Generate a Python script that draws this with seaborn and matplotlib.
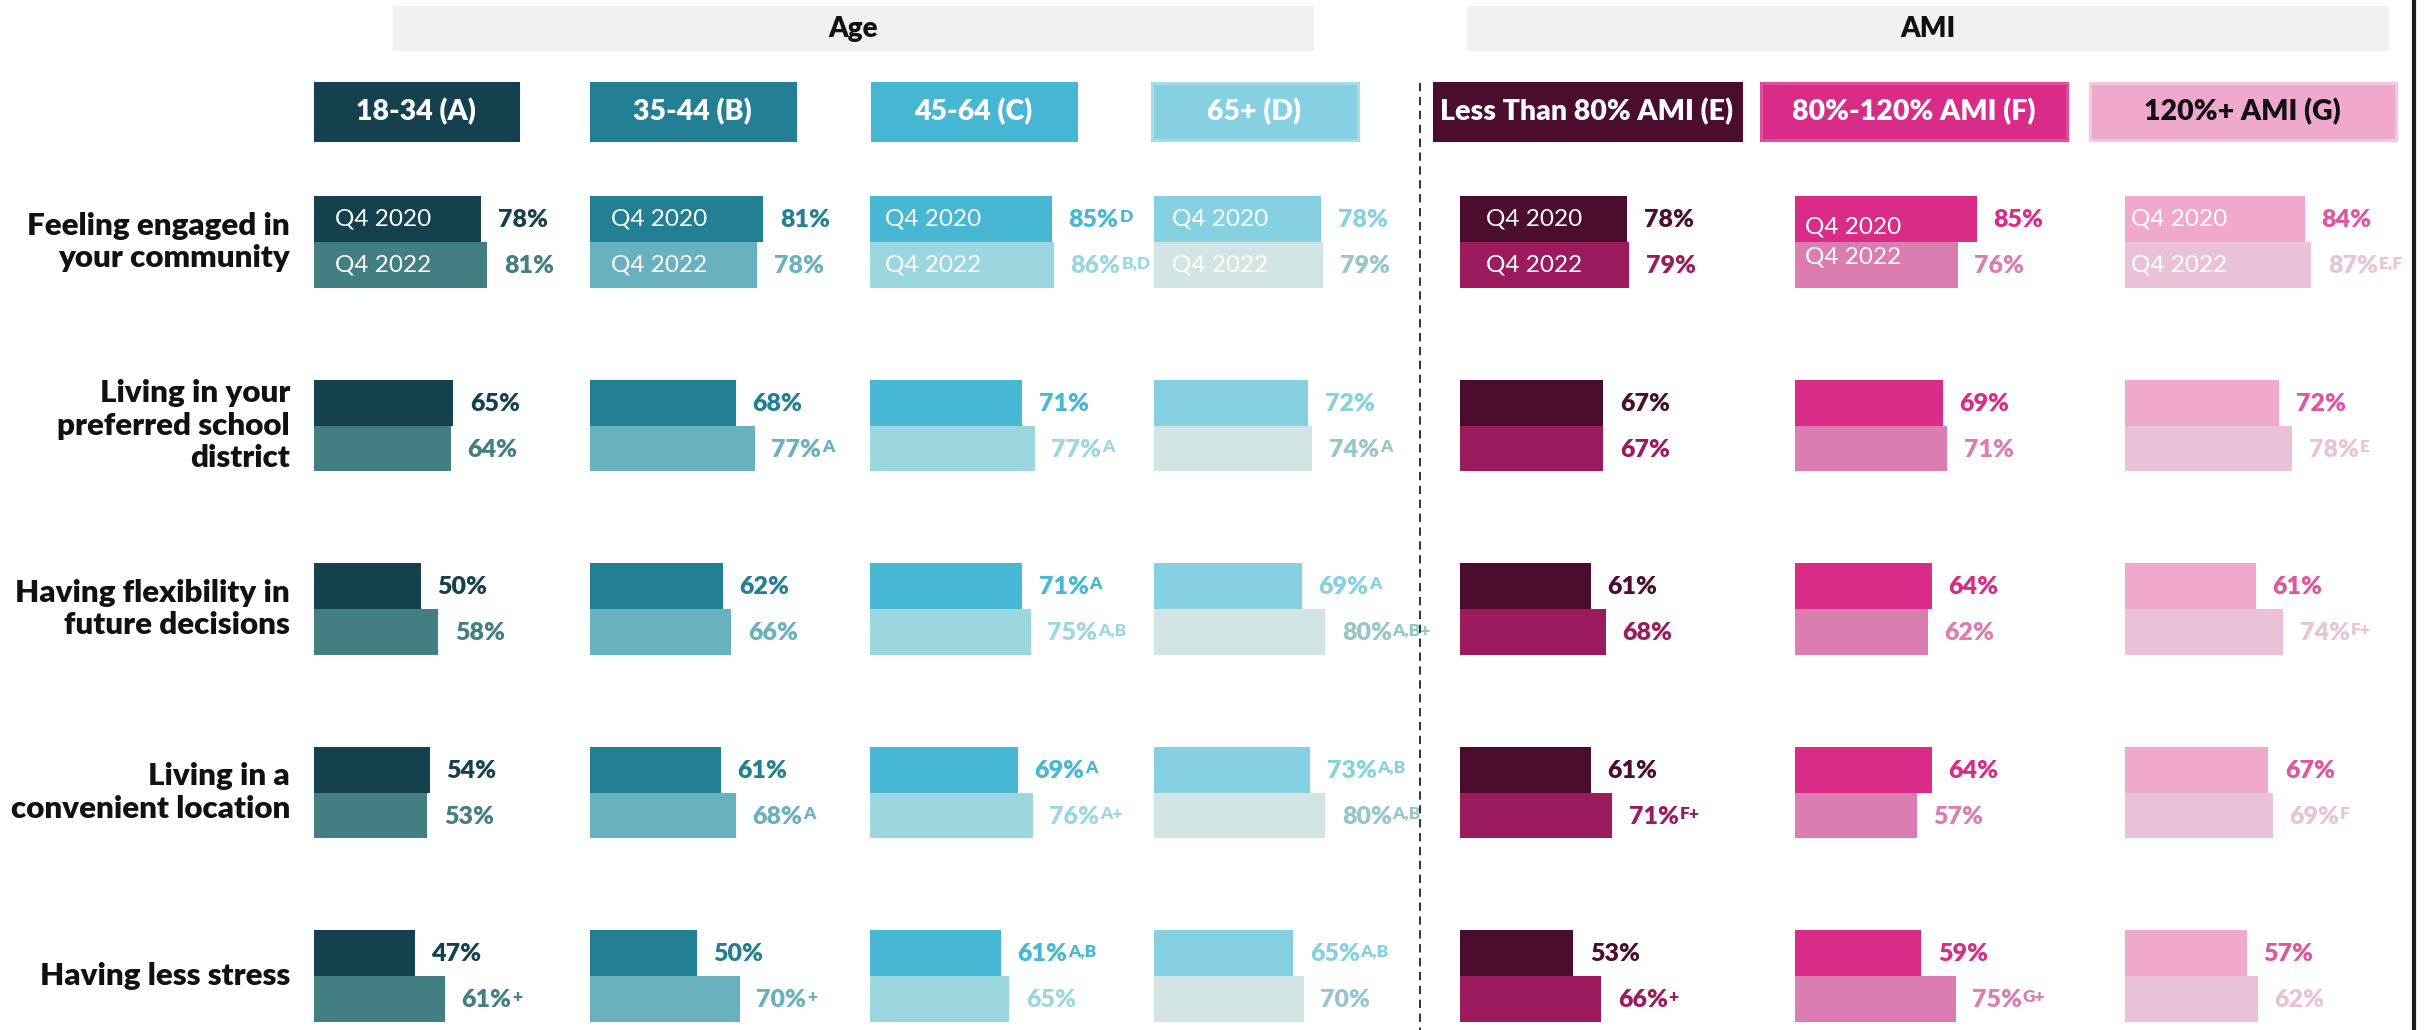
import matplotlib
matplotlib.use('Agg')
import matplotlib.pyplot as plt
from matplotlib import font_manager
from matplotlib.patches import Rectangle
from matplotlib.lines import Line2D
import pandas as pd
import seaborn as sns

# rows / groups
categories = ['Feeling engaged in\nyour community',
              'Living in your\npreferred school\ndistrict',
              'Having flexibility in\nfuture decisions',
              'Living in a\nconvenient location',
              'Having less stress']
years = ['Q4 2020', 'Q4 2022']
group_labels = ['18-34 (A)', '35-44 (B)', '45-64 (C)', '65+ (D)',
                'Less Than 80% AMI (E)', '80%-120% AMI (F)', '120%+ AMI (G)']
section_labels = ['Age', 'AMI']

# values (%)
a_2020 = [78, 65, 50, 54, 47]
a_2022 = [81, 64, 58, 53, 61]
b_2020 = [81, 68, 62, 61, 50]
b_2022 = [78, 77, 66, 68, 70]
c_2020 = [85, 71, 71, 69, 61]
c_2022 = [86, 77, 75, 76, 65]
d_2020 = [78, 72, 69, 73, 65]
d_2022 = [79, 74, 80, 80, 70]
e_2020 = [78, 67, 61, 61, 53]
e_2022 = [79, 67, 68, 71, 66]
f_2020 = [85, 69, 64, 64, 59]
f_2022 = [76, 71, 62, 57, 75]
g_2020 = [84, 72, 61, 67, 57]
g_2022 = [87, 78, 74, 69, 62]

# significance superscripts
a_sup_2020 = ['', '', '', '', '']
a_sup_2022 = ['', '', '', '', '+']
b_sup_2020 = ['', '', '', '', '']
b_sup_2022 = ['', 'A', '', 'A', '+']
c_sup_2020 = ['D', '', 'A', 'A', 'A,B']
c_sup_2022 = ['B,D', 'A', 'A,B', 'A+', '']
d_sup_2020 = ['', '', 'A', 'A,B', 'A,B']
d_sup_2022 = ['', 'A', 'A,B+', 'A,B', '']
e_sup_2020 = ['', '', '', '', '']
e_sup_2022 = ['', '', '', 'F+', '+']
f_sup_2020 = ['', '', '', '', '']
f_sup_2022 = ['', '', '', '', 'G+']
g_sup_2020 = ['', '', '', '', '']
g_sup_2022 = ['E,F', 'E', 'F+', 'F', '']

vals_2020 = [a_2020, b_2020, c_2020, d_2020, e_2020, f_2020, g_2020]
vals_2022 = [a_2022, b_2022, c_2022, d_2022, e_2022, f_2022, g_2022]
sups_2020 = [a_sup_2020, b_sup_2020, c_sup_2020, d_sup_2020, e_sup_2020, f_sup_2020, g_sup_2020]
sups_2022 = [a_sup_2022, b_sup_2022, c_sup_2022, d_sup_2022, e_sup_2022, f_sup_2022, g_sup_2022]

# colours
bar_2020 = ['#15414E', '#237F93', '#47B8D4', '#86D1E1', '#4A0D2E', '#D92C88', '#F0A8CD']
bar_2022 = ['#437E83', '#69B1BF', '#9CD7E0', '#D3E4E4', '#9C1B5E', '#DB7DB0', '#EAC2D8']
txt_2020 = ['#15414E', '#237F93', '#47B8D4', '#86D1E1', '#4A0D2E', '#D92C88', '#E0559F']
txt_2022 = ['#437E83', '#69B1BF', '#9CD7E0', '#96C6C6', '#9C1B5E', '#DB7DB0', '#EAC2D8']
head_fill = ['#15414E', '#237F93', '#47B8D4', '#86D1E1', '#4A0D2E', '#D92C88', '#F0A8CD']
head_edge = ['#15414E', '#237F93', '#47B8D4', '#A3DDEA', '#4A0D2E', '#E24C9C', '#F5C8DF']
head_text = ['white'] * 6 + ['#111111']

# layout in pixels
W, H = 2425, 1030
group_x = [314, 590, 870, 1154, 1460, 1795, 2125]
head_box = [(313, 519), (589, 796), (870, 1077), (1150, 1359),
            (1432, 1742), (1759, 2068), (2088, 2397)]
section_box = [(393, 1314), (1467, 2389)]
q_pad = [15, 15, 11, 13, 19, 7, 4]
q_shift = [(0, 0)] * 5 + [(-6, 6), (0, 0)]
px_per_pct = 2.14
row_top = 150.25
row_pitch = 183.5

sns.set_style('white')
names = {f.name for f in font_manager.fontManager.ttflist}
FONT = 'Liberation Sans Narrow' if 'Liberation Sans Narrow' in names else 'Lato'
plt.rcParams['font.family'] = [FONT, 'DejaVu Sans']
plt.rcParams['lines.scale_dashes'] = False

fig = plt.figure(figsize=(W / 100, H / 100), dpi=100)


def fx(px):
    return px / W


def fy(py):
    return 1 - py / H


# section header bands
for (x0, x1), lab in zip(section_box, section_labels):
    fig.patches.append(Rectangle((fx(x0), fy(51)), fx(x1 - x0), 45 / H,
                                 transform=fig.transFigure, color='#F1F1F1', lw=0))
    fig.text(fx((x0 + x1) / 2), fy(29), lab, ha='center', va='center',
             fontsize=20, fontweight='heavy', color='#111111')

# group header boxes
for (x0, x1), lab, fc, ec, tc in zip(head_box, group_labels, head_fill, head_edge, head_text):
    fig.patches.append(Rectangle((fx(x0 + 1.5), fy(139.5)), fx(x1 - x0 - 3), 56 / H,
                                 transform=fig.transFigure, facecolor=fc, edgecolor=ec, lw=2.2))
    fig.text(fx((x0 + x1) / 2), fy(112), lab, ha='center', va='center',
             fontsize=20.5, fontweight='heavy', color=tc)

ybot = (H - row_top) / row_pitch - 0.5
ax_h = (H - row_top) / H

for g in range(len(group_labels)):
    df = pd.DataFrame({
        'cat': categories * 2,
        'year': [years[0]] * len(categories) + [years[1]] * len(categories),
        'value': vals_2020[g] + vals_2022[g],
    })
    ax = fig.add_axes([fx(group_x[g]), 0, fx(100 * px_per_pct), ax_h])
    sns.barplot(data=df, y='cat', x='value', hue='year', hue_order=years,
                order=categories, orient='h', width=0.5, saturation=1,
                palette=[bar_2020[g], bar_2022[g]], linewidth=0, legend=False, ax=ax)
    ax.set_xlim(0, 100)
    ax.set_ylim(ybot, -0.5)
    ax.axis('off')

    for j, (vals, sups, tcol) in enumerate([(vals_2020[g], sups_2020[g], txt_2020[g]),
                                            (vals_2022[g], sups_2022[g], txt_2022[g])]):
        for i, (v, s) in enumerate(zip(vals, sups)):
            yc = i + (j - 0.5) * 0.25
            t = ax.annotate(f'{v}%', xy=(v, yc), xytext=(12, -1), textcoords='offset points',
                            ha='left', va='center', fontsize=18, fontweight='heavy', color=tcol)
            if s:
                ax.annotate(s, xy=(1, 1.0), xycoords=t, xytext=(0.5, 0), textcoords='offset points',
                            ha='left', va='top', fontsize=12.5, fontweight='heavy', color=tcol)
        # Q4 year labels inside the first row of bars
        ax.annotate(years[j], xy=(0, (j - 0.5) * 0.25), xytext=(q_pad[g], q_shift[g][j]),
                    textcoords='offset points', ha='left', va='center',
                    fontsize=17.5, color='white')

# row labels
lab_ax = fig.add_axes([0, 0, fx(290), ax_h])
lab_ax.set_ylim(ybot, -0.5)
lab_ax.set_xlim(0, 1)
lab_ax.axis('off')
for i, c in enumerate(categories):
    lab_ax.text(1, i, c, ha='right', va='center', fontsize=22.5, fontweight='heavy',
                color='#111111', linespacing=1.2)

# dashed divider between Age and AMI, and right edge rule
fig.lines.append(Line2D([fx(1420), fx(1420)], [fy(83), 0], transform=fig.transFigure,
                        color='#222222', lw=1.3, dashes=(6, 4)))
fig.lines.append(Line2D([fx(2414), fx(2414)], [0, 1], transform=fig.transFigure,
                        color='#1A1A1A', lw=3))

fig.savefig('out.png', dpi=100)
